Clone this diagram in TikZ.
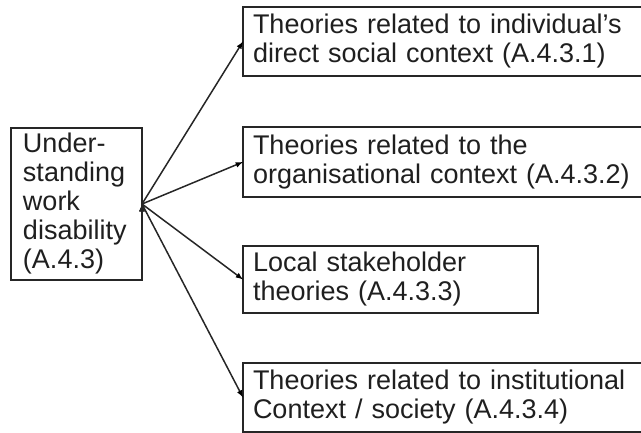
\documentclass[tikz,border=0pt]{standalone}
\usepackage{fontspec}
\setmainfont{Liberation Sans}
\tikzstyle{topic}=[rectangle,draw=black!85,line width=2pt,text=black!88,
align=left,anchor=north west,outer sep=0pt,inner xsep=10pt,inner ysep=0pt,
font=\fontsize{27}{29}\selectfont]
\tikzstyle{theory}=[topic,text width=430pt,minimum height=69pt]
\usetikzlibrary{arrows,positioning}

\begin{document}
\begin{tikzpicture}[x=1pt,y=1pt,>=latex]
            \useasboundingbox (0,0) rectangle (641,-433);
            \clip (0,0) rectangle (641,-433);

            % main topic
            \node[topic,inner xsep=12pt,text width=107pt,minimum height=152pt] at (11,-128) (und)
                {Under-\\standing\\work\\disability\\(A.4.3)};

            % theory groups
            \node[theory] at (243,-7) (th1)
                {Theories related to individual’s\\direct social context (A.4.3.1)};
            \node[theory,below=51pt of th1.south west,anchor=north west,minimum height=70pt] (th2)
                {Theories related to the\\organisational context (A.4.3.2)};
            \node[theory,below=49pt of th2.south west,anchor=north west,text width=275pt,minimum height=67pt] (th3)
                {Local stakeholder\\theories (A.4.3.3)};
            \node[theory,below=50pt of th3.south west,anchor=north west] (th4)
                {Theories related to institutional\\Context / society (A.4.3.4)};

            \path[-latex,line width=1.5pt,draw=black!85] (und.east) edge node {} (th1.west);
            \path[-latex,line width=1.5pt,draw=black!85] (und.east) edge node {} (th2.west);
            \path[-latex,line width=1.5pt,draw=black!85] (und.east) edge node {} (th3.west);
            \path[-latex,line width=1.5pt,draw=black!85] (und.east) edge node {} (th4.west);

\end{tikzpicture}
\end{document}
